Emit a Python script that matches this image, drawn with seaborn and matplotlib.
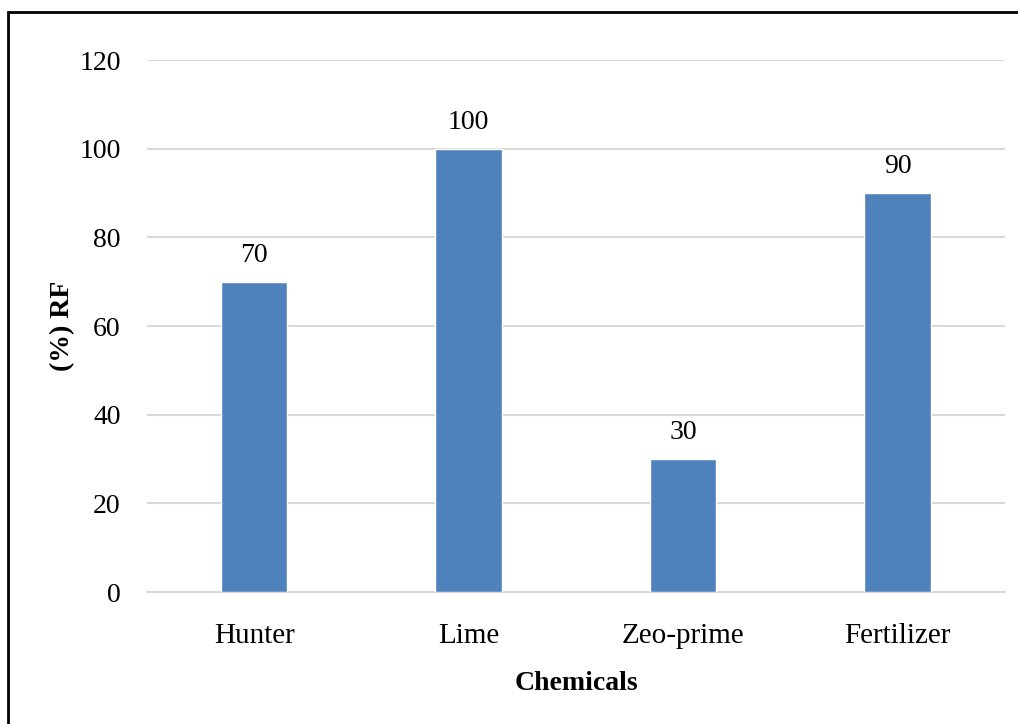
import pandas as pd
import seaborn as sns
import matplotlib.pyplot as plt
from matplotlib.patches import Rectangle

# chart data
chemicals = ["Hunter", "Lime", "Zeo-prime", "Fertilizer"]
rf_values = [70, 100, 30, 90]
y_ticks = [0, 20, 40, 60, 80, 100, 120]

data = pd.DataFrame({"Chemicals": chemicals, "RF": rf_values})

sns.set_style("white")
plt.rcParams['font.family'] = ['Liberation Serif', 'DejaVu Serif']
plt.rcParams['text.color'] = 'black'
plt.rcParams['axes.labelcolor'] = 'black'
plt.rcParams['xtick.color'] = 'black'
plt.rcParams['ytick.color'] = 'black'

fig = plt.figure(figsize=(10.18, 7.24), dpi=100)
ax = fig.add_axes([0.1444, 0.1823, 0.8428, 0.7348])

sns.barplot(x="Chemicals", y="RF", data=data, color="#4F81BD",
            saturation=1, width=0.31, ax=ax, zorder=3)

ax.set_ylim(0, 120)
ax.set_yticks(y_ticks)
ax.set_xlim(-0.5, 3.5)
ax.yaxis.grid(True, color="#D9D9D9", linewidth=1.5, zorder=0)
ax.set_axisbelow(True)
for side in ["top", "right", "left"]:
    ax.spines[side].set_visible(False)
ax.spines["bottom"].set_color("#D9D9D9")
ax.spines["bottom"].set_linewidth(1.5)
ax.tick_params(axis="x", length=0, labelsize=21, pad=22)
ax.tick_params(axis="y", length=0, labelsize=20, pad=19)

for i, v in enumerate(rf_values):
    ax.annotate(str(v), (i, v), xytext=(0, 10), textcoords="offset points",
                ha="center", va="bottom", fontsize=20)

ax.set_xlabel("Chemicals", fontsize=20, fontweight="bold", labelpad=16)
ax.set_ylabel("(%) RF", fontsize=20, fontweight="bold", labelpad=3)

# frame around the figure (left and top edges visible)
fig.patches.append(Rectangle((8 / 1018, -0.1), 1.2, 1 - 12 / 724 + 0.1,
                             transform=fig.transFigure, fill=False,
                             edgecolor="black", linewidth=2))

fig.savefig("out.png", dpi=100)
